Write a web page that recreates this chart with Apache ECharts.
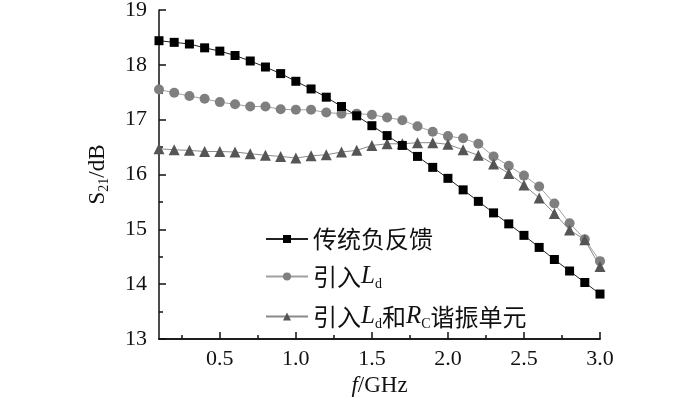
<!DOCTYPE html>
<html>
<head>
<meta charset="utf-8">
<script src="https://cdn.jsdelivr.net/npm/echarts@6/dist/echarts.min.js"></script>
<style>
  html, body { margin: 0; padding: 0; background: #fff; }
  #chart { width: 700px; height: 398px; }
</style>
</head>
<body>
<div id="chart"></div>
<script>
const freq = [0.1, 0.2, 0.3, 0.4, 0.5, 0.6, 0.7, 0.8, 0.9, 1.0,
  1.1, 1.2, 1.3, 1.4, 1.5, 1.6, 1.7, 1.8, 1.9, 2.0,
  2.1, 2.2, 2.3, 2.4, 2.5, 2.6, 2.7, 2.8, 2.9, 3.0];

const traditional = [18.44, 18.41, 18.38, 18.31, 18.25, 18.17, 18.07, 17.96, 17.84, 17.70,
  17.56, 17.41, 17.24, 17.07, 16.89, 16.71, 16.53, 16.33, 16.13, 15.93,
  15.72, 15.51, 15.30, 15.10, 14.89, 14.67, 14.45, 14.24, 14.03, 13.82];

const withLd = [17.55, 17.49, 17.43, 17.38, 17.32, 17.28, 17.24, 17.24, 17.19, 17.18,
  17.18, 17.13, 17.11, 17.11, 17.09, 17.04, 16.99, 16.88, 16.78, 16.70,
  16.66, 16.56, 16.33, 16.16, 15.98, 15.78, 15.47, 15.11, 14.82, 14.42];

const withLdRc = [16.47, 16.45, 16.44, 16.42, 16.42, 16.41, 16.38, 16.35, 16.33, 16.30,
  16.34, 16.36, 16.41, 16.44, 16.53, 16.56, 16.56, 16.58, 16.58, 16.55,
  16.45, 16.35, 16.19, 16.02, 15.81, 15.57, 15.29, 14.99, 14.81, 14.32];

const seriesNames = ['传统负反馈', '引入Ld', '引入Ld和Rc谐振单元'];
const majorTicks = [0.5, 1.0, 1.5, 2.0, 2.5, 3.0];
const minorTicks = [0.25, 0.75, 1.25, 1.75, 2.25, 2.75];

const serif = '"Liberation Serif", "Times New Roman", serif';
const cjk = '"Noto Sans CJK SC", sans-serif';

const chart = echarts.init(document.getElementById('chart'));

function pairs(ys) {
  return freq.map((x, i) => [x, ys[i]]);
}

const legendRich = {
  c: { fontFamily: cjk, fontSize: 24, color: '#111' },
  i: { fontFamily: serif, fontStyle: 'italic', fontSize: 25, color: '#111' },
  sub: { fontFamily: serif, fontSize: 14, color: '#111', padding: [15, 0, 0, 0] },
};

const xBase = {
  type: 'value',
  min: 0.1,
  max: 3.0,
  axisLine: { lineStyle: { color: '#111', width: 1.5 } },
  splitLine: { show: false },
};

chart.setOption({
  animation: false,
  backgroundColor: '#fff',
  grid: { left: 159, right: 100, top: 10, bottom: 59, outerBoundsMode: 'none' },
  legend: {
    orient: 'vertical',
    left: 260,
    top: 222,
    itemWidth: 42,
    itemHeight: 10,
    itemGap: 13,
    data: seriesNames,
    formatter: (name) => {
      if (name === seriesNames[0]) return '{c|' + name + '}';
      if (name === seriesNames[1]) return '{c|引入}{i|L}{sub|d}';
      return '{c|引入}{i|L}{sub|d}{c|和}{i|R}{sub|C}{c|谐振单元}';
    },
    textStyle: { rich: legendRich },
  },
  xAxis: [
    Object.assign({}, xBase, {
      name: '{i|f}{n|/GHz}',
      nameLocation: 'middle',
      nameGap: 32,
      nameTextStyle: {
        rich: {
          i: { fontFamily: serif, fontStyle: 'italic', fontSize: 23, color: '#111' },
          n: { fontFamily: serif, fontSize: 23, color: '#111' },
        },
      },
      axisTick: { inside: true, length: 7, customValues: majorTicks, lineStyle: { color: '#111', width: 1.5 } },
      axisLabel: {
        customValues: majorTicks,
        formatter: (v) => v.toFixed(1),
        fontFamily: serif,
        fontSize: 22,
        color: '#111',
        margin: 9,
      },
    }),
    Object.assign({}, xBase, {
      axisTick: { inside: true, length: 4, customValues: minorTicks, lineStyle: { color: '#111', width: 1.5 } },
      axisLabel: { show: false },
      position: 'bottom',
    }),
  ],
  yAxis: {
    type: 'value',
    min: 13,
    max: 19,
    interval: 1,
    name: '{a|S}{sub|21}{a|/dB}',
    nameLocation: 'middle',
    nameGap: 48,
    nameRotate: 90,
    nameTextStyle: {
      rich: {
        a: { fontFamily: serif, fontSize: 23, color: '#111' },
        sub: { fontFamily: serif, fontSize: 14, color: '#111', padding: [12, 0, 0, 0] },
      },
    },
    axisLine: { show: true, lineStyle: { color: '#111', width: 1.5 } },
    axisTick: { inside: true, length: 7, lineStyle: { color: '#111', width: 1.5 } },
    minorTick: { show: true, splitNumber: 2, length: 4, lineStyle: { color: '#111', width: 1.5 } },
    axisLabel: { fontFamily: serif, fontSize: 22, color: '#111', margin: 12 },
    splitLine: { show: false },
  },
  series: [
    {
      name: seriesNames[0],
      type: 'line',
      data: pairs(traditional),
      symbol: 'rect',
      symbolSize: 9,
      itemStyle: { color: '#000' },
      lineStyle: { color: '#222', width: 1 },
      z: 3,
    },
    {
      name: seriesNames[1],
      type: 'line',
      data: pairs(withLd),
      symbol: 'circle',
      symbolSize: 10,
      itemStyle: { color: '#7f7f7f' },
      lineStyle: { color: '#a0a0a0', width: 1 },
      z: 2,
    },
    {
      name: seriesNames[2],
      type: 'line',
      data: pairs(withLdRc),
      symbol: 'triangle',
      symbolSize: 11,
      itemStyle: { color: '#555' },
      lineStyle: { color: '#8a8a8a', width: 1 },
      z: 2,
    },
  ],
});
</script>
</body>
</html>
